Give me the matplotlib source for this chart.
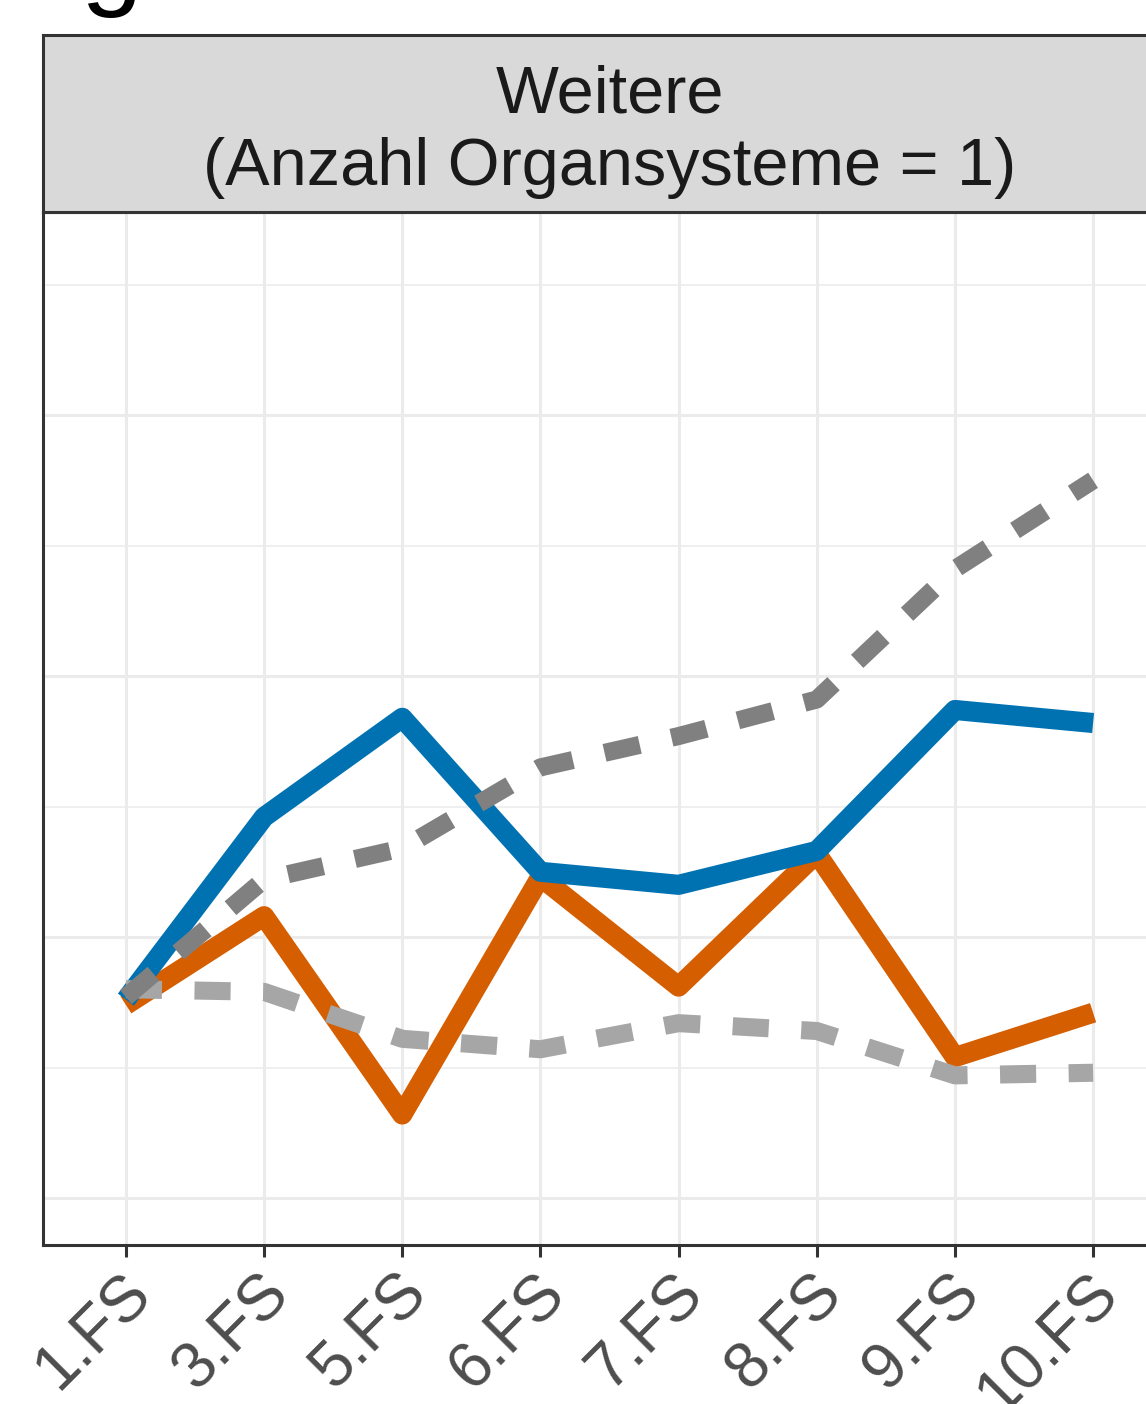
import numpy as np
import matplotlib
matplotlib.use("Agg")
import matplotlib.pyplot as plt
import matplotlib.transforms as mtransforms

plt.rcParams['font.family'] = ['Liberation Sans', 'DejaVu Sans']

# data (arbitrary units; major grid at 0,1,2,3)
semesters   = ['1.FS', '3.FS', '5.FS', '6.FS', '7.FS', '8.FS', '9.FS', '10.FS']
blue_vals   = [0.76, 1.46, 1.84, 1.25, 1.20, 1.33, 1.87, 1.82]
orange_vals = [0.74, 1.08, 0.32, 1.23, 0.81, 1.32, 0.54, 0.71]
dark_vals   = [0.77, 1.22, 1.34, 1.65, 1.77, 1.91, 2.41, 2.75]
light_vals  = [0.80, 0.79, 0.61, 0.57, 0.67, 0.64, 0.47, 0.48]
strip_text  = 'Weitere\n(Anzahl Organsysteme = 1)'

W, H = 1146, 1404
fig = plt.figure(figsize=(W / 100, H / 100), dpi=100)

# panel (right edge runs past the figure, as in the cropped reference)
px_l, px_r, px_t, px_b = 43, 1176, 212, 1245
ax = fig.add_axes([px_l / W, 1 - px_b / H, (px_r - px_l) / W, (px_b - px_t) / H])
x = np.arange(len(semesters))

ax.plot(x, orange_vals, color='#D55E00', lw=14.5, solid_capstyle='butt', solid_joinstyle='round', zorder=3)
ax.plot(x, blue_vals,   color='#0072B2', lw=14.5, solid_capstyle='butt', solid_joinstyle='round', zorder=4)
ax.plot(x, light_vals,  color='#A6A6A6', lw=13, dashes=(2.0, 1.8), dash_capstyle='butt', zorder=5)
ax.plot(x, dark_vals,   color='#808080', lw=13, dashes=(2.0, 1.8), dash_capstyle='butt', zorder=6)

ax.set_xlim(-0.6, len(semesters) - 0.4)
ax.set_ylim(-0.18, 3.778)
ax.set_xticks(x)
ax.set_xticklabels(semesters)
ax.set_yticks([0, 1, 2, 3])
ax.set_yticks([0.5, 1.5, 2.5, 3.5], minor=True)
ax.tick_params(axis='y', which='both', left=False, labelleft=False)
ax.tick_params(axis='x', length=8.6, width=2.2, color='#333333', pad=4,
               labelsize=46, labelcolor='#4D4D4D')
shift = mtransforms.ScaledTranslation(-6 / 100, 0, fig.dpi_scale_trans)
for lab in ax.get_xticklabels():
  lab.set_rotation(45)
  lab.set_ha('right')
  lab.set_va('top')
  lab.set_rotation_mode('anchor')
  lab.set_transform(lab.get_transform() + shift)
ax.grid(True, which='major', color='#EBEBEB', lw=2.2, zorder=0)
ax.grid(True, which='minor', axis='y', color='#EBEBEB', lw=1.1, zorder=0)
ax.set_axisbelow(True)
for s in ax.spines.values():
  s.set_color('#333333')
  s.set_linewidth(2.2)

# facet strip
st_t, st_b = 35, 212
sax = fig.add_axes([px_l / W, 1 - st_b / H, (px_r - px_l) / W, (st_b - st_t) / H])
sax.set_facecolor('#D9D9D9')
sax.set_xticks([])
sax.set_yticks([])
for s in sax.spines.values():
  s.set_color('#333333')
  s.set_linewidth(2.2)
sax.text(0.5, 0.455, strip_text, transform=sax.transAxes, ha='center', va='center',
         fontsize=48, color='#1A1A1A', linespacing=1.22)

# cut-off plot tag at the top left
fig.text(111 / W, 1 + 5 / H, 'g', ha='center', va='baseline', fontsize=80, color='black')

fig.savefig('out.png', dpi=100)
